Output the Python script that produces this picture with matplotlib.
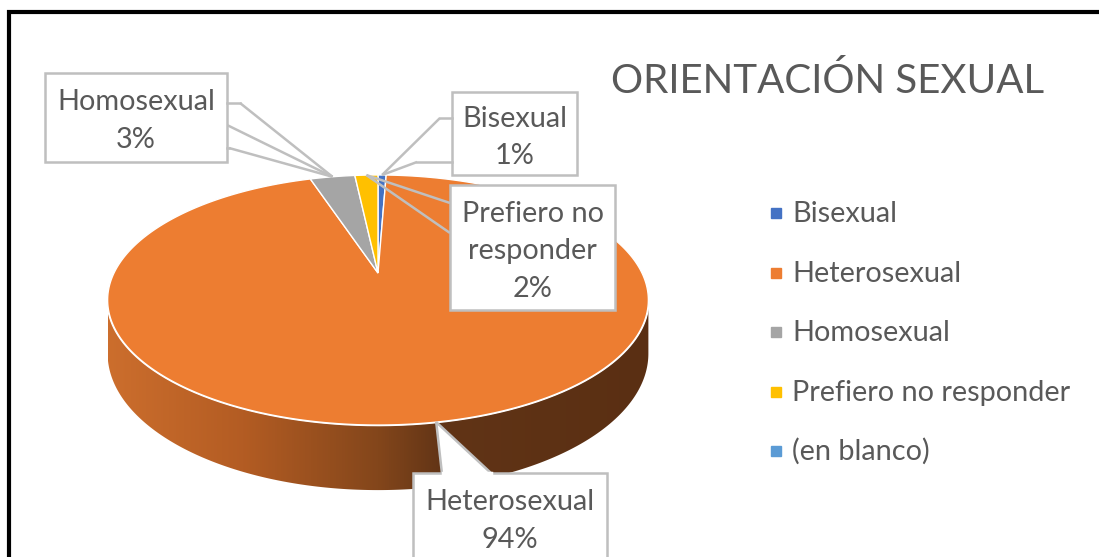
import numpy as np
import matplotlib
matplotlib.use("Agg")
import matplotlib.pyplot as plt
from matplotlib.patches import Polygon, Rectangle
from matplotlib.colors import LinearSegmentedColormap

# ---------------- data ----------------
categories = ["Bisexual", "Heterosexual", "Homosexual", "Prefiero no responder", "(en blanco)"]
values = [0.6, 94.4, 3.3, 1.7, 0.0]
colors = ["#4472C4", "#ED7D31", "#A5A5A5", "#FFC000", "#5B9BD5"]
title = "ORIENTACIÓN SEXUAL"

# ---------------- figure ----------------
plt.rcParams['font.family'] = ['Lato', 'DejaVu Sans']
fig = plt.figure(figsize=(10.99, 5.57), dpi=100)
ax = fig.add_axes([0, 0, 1, 1])
ax.set_xlim(0, 1099)
ax.set_ylim(557, 0)
ax.axis("off")

TXT = "#595959"
LINE = "#BFBFBF"
FS = 20.8

# outer border (extends beyond right / bottom edge)
ax.plot([9, 9, 1110], [570, 12, 12], color="black", lw=3, solid_joinstyle="miter", zorder=1)

# ---------------- 3D pie geometry ----------------
cx, cy = 378.0, 273.0
R, Rk, p, H = 264.0, 119.2, 0.216, 51.0


def proj(phi, z=0.0):
    X = np.sin(phi)
    Y = np.cos(phi)
    w = 1 + p * Y
    return cx + R * X / w, cy - Rk * Y / w + H * z / w


total = sum(values)
fracs = [v / total for v in values]
bounds = np.concatenate([[0], np.cumsum(fracs)]) * 2 * np.pi

# side wall (visible front part) -- all of it belongs to the big slice
a0 = np.arccos(-p)            # right silhouette
a1 = 2 * np.pi - a0           # left silhouette
ft = np.linspace(a0, a1, 400)
top_pts = [proj(f) for f in ft]
bot_pts = [proj(f, 1) for f in ft[::-1]]
side_poly = Polygon(top_pts + bot_pts, closed=True, fc="none", ec="none", zorder=2)
ax.add_patch(side_poly)
side_cmap = LinearSegmentedColormap.from_list(
    "side", [(0.0, "#CC6E2D"), (0.25, "#B35C23"), (0.5, "#83461B"),
             (0.62, "#613416"), (1.0, "#5A2F13")])
xl, xr = proj(a1)[0], proj(a0)[0]
grad = np.linspace(0, 1, 512)[None, :]
im = ax.imshow(grad, cmap=side_cmap, extent=(xl, xr, 600, 250), aspect="auto",
               interpolation="bilinear", zorder=2)
im.set_clip_path(side_poly)
ax.set_xlim(0, 1099)
ax.set_ylim(557, 0)

# white line between top and side
ax.plot(*zip(*top_pts), color="white", lw=1.8, zorder=3)

# top faces
for k in range(len(values)):
    if values[k] <= 0:
        continue
    fs = np.linspace(bounds[k], bounds[k + 1], max(3, int(fracs[k] * 600)))
    pts = [(cx, cy)] + [proj(f) for f in fs]
    ax.add_patch(Polygon(pts, closed=True, fc=colors[k], ec="white", lw=1.0,
                         joinstyle="miter", zorder=4))

pct = [int(round(f * 100)) for f in fracs]


def anchor(k):
    m = 0.5 * (bounds[k] + bounds[k + 1])
    return proj(m)


def box_text(xc, yc, lines):
    n = len(lines)
    for i, s in enumerate(lines):
        yy = yc + (i - (n - 1) / 2) * 37.5
        ax.text(xc, yy + 10, s, ha="center", va="baseline", color=TXT,
                fontsize=FS, zorder=8)


def callout(k, box, wedge, extra, lines, ty):
    x0, y0, x1, y1 = box
    ax.add_patch(Rectangle((x0, y0), x1 - x0, y1 - y0, fc="white", ec=LINE, lw=1.8, zorder=6))
    ax_, ay_ = anchor(k)
    for (wx, wy) in wedge:
        ax.plot([wx, ax_], [wy, ay_], color=LINE, lw=1.8, zorder=5, solid_capstyle="butt")
    for seg in extra:
        ax.plot(*zip(*seg), color=LINE, lw=1.8, zorder=7)
    box_text((x0 + x1) / 2, ty, lines)


# Homosexual
callout(2, (45, 73, 227, 162), [(240, 103), (227, 125), (229, 148)],
        [[(227, 103), (240, 103)], [(227, 148), (229, 148)]],
        [categories[2], f"{pct[2]}%"], 119)
# Bisexual
callout(0, (452, 92, 577, 175), [(440, 118), (417, 162)],
        [[(452, 118), (440, 118)], [(452, 162), (417, 162)]],
        [categories[0], f"{pct[0]}%"], 135.5)
# Prefiero no responder
callout(3, (450, 185, 615, 310), [(450, 203), (450, 233)], [],
        ["Prefiero no", "responder", f"{pct[3]}%"], 249.5)
# Heterosexual (anchor at front rim)
het_anchor = proj(np.deg2rad(170))
x0, y0, x1, y1 = 413, 473, 607, 575
ax.add_patch(Rectangle((x0, y0), x1 - x0, y1 - y0, fc="white", ec=LINE, lw=1.8, zorder=6))
ax.add_patch(Polygon([het_anchor, (442, y0 + 1), (492, y0 + 1)], closed=True,
                     fc="white", ec=LINE, lw=1.8, zorder=5))
ax.plot([443, 491], [y0, y0], color="white", lw=2.5, zorder=7)
box_text((x0 + x1) / 2, 519, [categories[1], f"{pct[1]}%"])

# ---------------- title ----------------
ax.text(828, 79 + 14, title, ha="center", va="baseline", color=TXT, fontsize=29, zorder=8)

# ---------------- legend ----------------
leg_y0, leg_dy = 213, 59.5
for i, (c, lab) in enumerate(zip(colors, categories)):
    yy = leg_y0 + i * leg_dy
    ax.plot([776], [yy], marker="s", ms=6.5, color=c, mec=c, ls="none", zorder=8)
    ax.text(792, yy + 9, lab, ha="left", va="baseline", color=TXT, fontsize=FS, zorder=8)

fig.savefig("out.png", dpi=100, facecolor="white")
